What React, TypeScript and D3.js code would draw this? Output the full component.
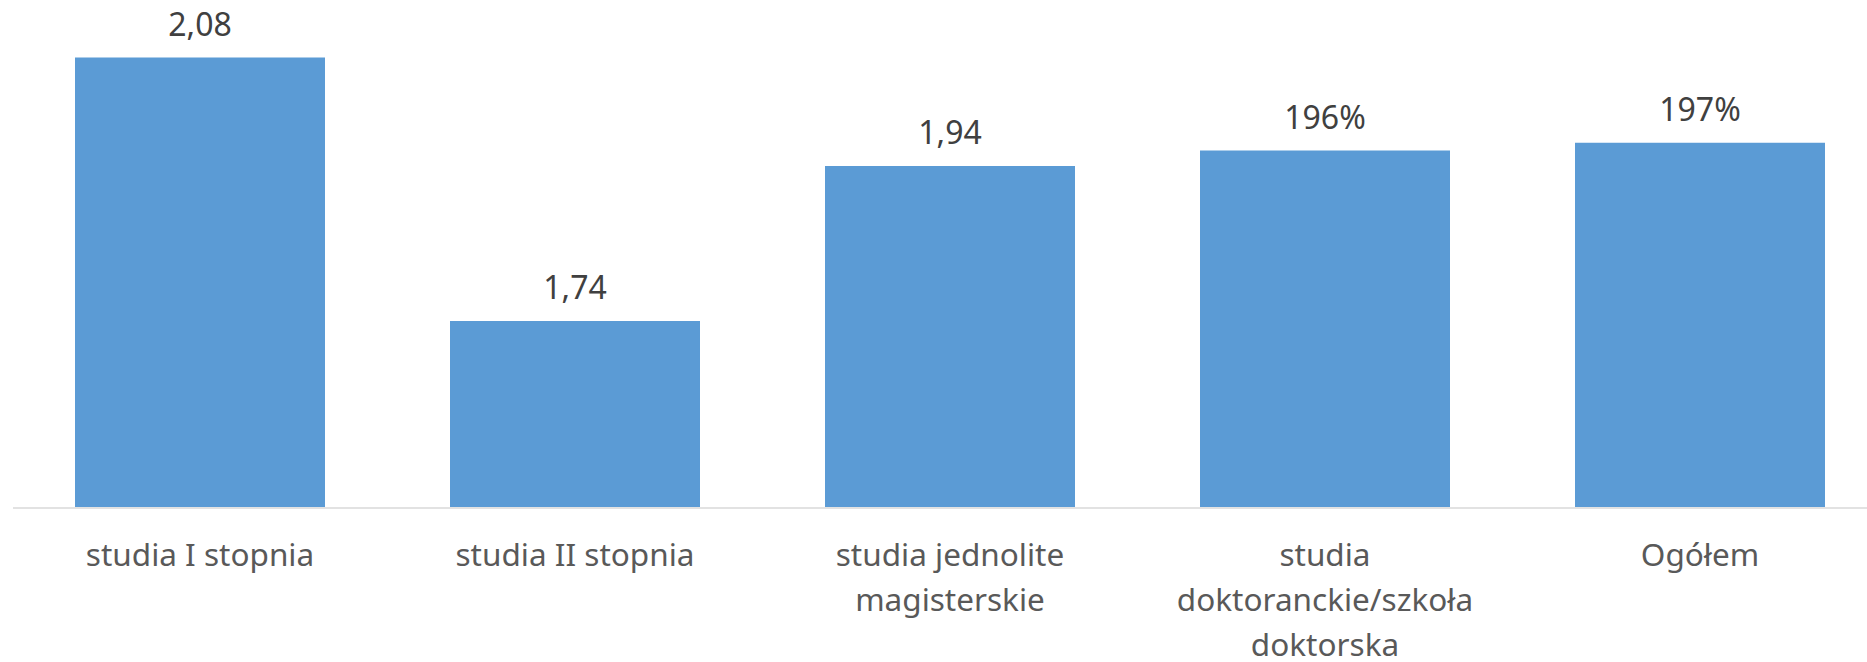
import { scaleBand, scaleLinear } from "d3";

// categories shown under the bars (one entry per line of the label)
const categories = [
  ["studia I stopnia"],
  ["studia II stopnia"],
  ["studia jednolite", "magisterskie"],
  ["studia", "doktoranckie/szkoła", "doktorska"],
  ["Ogółem"],
];
const values = [2.08, 1.74, 1.94, 1.96, 1.97];
const valueLabels = ["2,08", "1,74", "1,94", "196%", "197%"];

const W = 1867;
const H = 662;
const FONT = "'Noto Sans', 'Open Sans', sans-serif";

function App() {
  const keys = categories.map((c) => c.join(" "));

  const x = scaleBand<string>()
    .domain(keys)
    .range([12.5, 1887.5])
    .paddingInner(1 / 3)
    .paddingOuter(1 / 6);

  const y = scaleLinear().domain([1.5, 2.1]).range([507, 42]);
  const cx = (i: number) => (x(keys[i]) ?? 0) + x.bandwidth() / 2;

  return (
    <div style={{ position: "absolute", left: 0, top: 0 }}>
      <svg width={W} height={H} style={{ display: "block", background: "#fff" }}>
        {values.map((v, i) => (
          <rect
            key={keys[i]}
            x={x(keys[i])}
            y={y(v)}
            width={x.bandwidth()}
            height={y(1.5) - y(v)}
            fill="#5B9BD5"
          />
        ))}

        <line x1={13} x2={W} y1={508} y2={508} stroke="#D9D9D9" strokeWidth={1.5} />

        {values.map((v, i) => (
          <text
            key={"v" + i}
            x={cx(i)}
            y={y(v) - 22}
            textAnchor="middle"
            fontFamily={FONT}
            fontSize={32}
            fill="#404040"
          >
            {valueLabels[i]}
          </text>
        ))}

        {categories.map((lines, i) => (
          <text
            key={"c" + i}
            x={cx(i)}
            y={566}
            textAnchor="middle"
            fontFamily={FONT}
            fontSize={31.5}
            fill="#595959"
          >
            {lines.map((ln, j) => (
              <tspan key={j} x={cx(i)} dy={j === 0 ? 0 : 45}>
                {ln}
              </tspan>
            ))}
          </text>
        ))}
      </svg>
    </div>
  );
}

export default App;
